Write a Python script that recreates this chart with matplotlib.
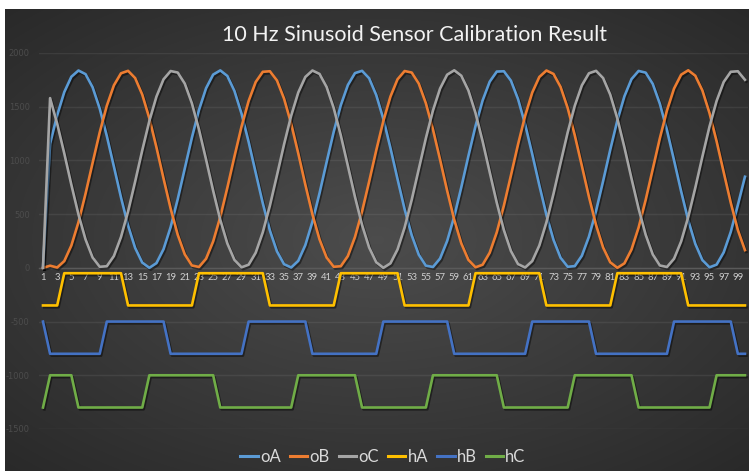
import numpy as np
import matplotlib
matplotlib.use("Agg")
import matplotlib.pyplot as plt
import matplotlib.patheffects as pe

# ---------------- data ----------------
samples = list(range(1, 101))

oA = [0, 1156, 1421, 1636, 1779, 1837, 1803, 1681, 1483, 1228,
      943, 656, 394, 185, 49, 0, 44, 174, 379, 639,
      926, 1212, 1470, 1672, 1799, 1838, 1786, 1647, 1436, 1173,
      885, 601, 348, 153, 34, 3, 65, 212, 429, 695,
      984, 1266, 1514, 1702, 1813, 1834, 1764, 1609, 1387, 1116,
      827, 546, 304, 122, 20, 8, 87, 250, 478, 752,
      1042, 1320, 1558, 1733, 1827, 1830, 1742, 1571, 1336, 1059,
      769, 493, 261, 94, 10, 16, 113, 291, 530, 809,
      1099, 1371, 1597, 1757, 1833, 1817, 1712, 1527, 1282, 1001,
      712, 443, 223, 72, 5, 30, 144, 335, 585, 848]

oB = [0, 20, 3, 63, 208, 424, 690, 978, 1261, 1509,
      1699, 1811, 1834, 1766, 1613, 1392, 1122, 832, 552, 308,
      125, 22, 8, 85, 246, 473, 746, 1036, 1315, 1553,
      1730, 1825, 1830, 1744, 1575, 1342, 1066, 774, 498, 265,
      96, 10, 15, 110, 287, 525, 804, 1094, 1367, 1594,
      1755, 1832, 1818, 1715, 1532, 1288, 1008, 718, 448, 227,
      74, 5, 29, 141, 331, 579, 862, 1150, 1416, 1632,
      1777, 1837, 1805, 1684, 1488, 1234, 949, 661, 399, 189,
      52, 0, 42, 171, 375, 633, 920, 1207, 1465, 1669,
      1798, 1839, 1788, 1651, 1441, 1179, 891, 606, 352, 165]

oC = [0, 1580, 1342, 1066, 774, 498, 265, 96, 10, 15,
      110, 287, 525, 804, 1094, 1367, 1594, 1755, 1832, 1818,
      1715, 1532, 1288, 1008, 718, 448, 227, 74, 5, 29,
      141, 331, 579, 862, 1150, 1416, 1632, 1777, 1837, 1805,
      1684, 1488, 1234, 949, 661, 399, 189, 52, 0, 42,
      171, 375, 633, 920, 1207, 1465, 1669, 1798, 1839, 1788,
      1651, 1441, 1179, 891, 606, 352, 156, 35, 3, 63,
      208, 424, 690, 978, 1261, 1509, 1699, 1811, 1834, 1766,
      1613, 1392, 1122, 832, 552, 308, 125, 22, 8, 85,
      246, 473, 746, 1036, 1315, 1553, 1730, 1825, 1830, 1750]

# hall sensor levels (high / low)
hA_high, hA_low = -50, -350
hB_high, hB_low = -500, -800
hC_high, hC_low = -1000, -1300

# samples at which each hall sensor is high
hA_high_samples = (list(range(4, 13)) + list(range(23, 33)) + list(range(43, 52))
                   + list(range(62, 72)) + list(range(82, 92)))
hB_high_samples = ([1] + list(range(10, 19)) + list(range(30, 39)) + list(range(49, 59))
                   + list(range(70, 79)) + list(range(90, 99)))
hC_high_samples = (list(range(2, 6)) + list(range(16, 26)) + list(range(37, 46))
                   + list(range(56, 66)) + list(range(76, 85)) + list(range(96, 101)))

hA = [hA_high if s in hA_high_samples else hA_low for s in samples]
hB = [hB_high if s in hB_high_samples else hB_low for s in samples]
hC = [hC_high if s in hC_high_samples else hC_low for s in samples]

series_names = ["oA", "oB", "oC", "hA", "hB", "hC"]
series_values = [oA, oB, oC, hA, hB, hC]
series_colors = ["#5b9bd5", "#ed7d31", "#a5a5a5", "#ffc000", "#4472c4", "#70ad47"]

y_ticks = [-1500, -1000, -500, 0, 500, 1000, 1500, 2000]
x_tick_labels = [str(s) for s in samples[::2]]

title = "10 Hz Sinusoid Sensor Calibration Result"

# ---------------- figure ----------------
W, H = 749, 471
fig = plt.figure(figsize=(W / 100, H / 100), dpi=100)
fig.patch.set_facecolor("white")

# dark radial gradient background (chart area), white margins top/left
bg = fig.add_axes([5 / W, 0, (W - 5) / W, (H - 9) / H])
bg.set_axis_off()
gx, gy = np.meshgrid(np.linspace(-1, 1, 400), np.linspace(-1, 1, 250))
r = np.sqrt((gx * 0.95) ** 2 + (gy * 1.0) ** 2)
shade = 0.30 - 0.14 * np.clip(r, 0, 1.4) / 1.4
img = np.dstack([shade, shade, shade])
bg.imshow(img, aspect="auto", extent=[0, 1, 0, 1], interpolation="bicubic")
bg.set_xlim(0, 1)
bg.set_ylim(0, 1)

left_px, right_px = 39.45, 748.5
top_px, bot_px = 53.0, 429.0
ax = fig.add_axes([left_px / W, (H - bot_px) / H, (right_px - left_px) / W, (bot_px - top_px) / H])
ax.set_facecolor("none")

shadow = [pe.SimpleLineShadow(offset=(1.0, -1.3), shadow_color="black", alpha=0.45), pe.Normal()]
for name, vals, col in zip(series_names, series_values, series_colors):
    ax.plot(samples, vals, color=col, lw=1.9, label=name, solid_joinstyle="round",
            path_effects=shadow, zorder=3)

ax.set_xlim(0.5, 100.5)
ax.set_ylim(-1500, 2000)
ax.set_yticks(y_ticks)
ax.set_yticklabels([str(v) for v in y_ticks])
ax.tick_params(axis="y", length=0, labelsize=6, labelcolor="#4c4c4c", pad=7)
ax.yaxis.grid(True, color="#ffffff", alpha=0.07, lw=1)
ax.set_axisbelow(True)

ax.set_xticks(samples[::2])
ax.set_xticklabels(x_tick_labels)
ax.tick_params(axis="x", length=0, labelsize=6.8, labelcolor="#cfcfcf", pad=4)
for s in ["top", "right", "left"]:
    ax.spines[s].set_visible(False)
ax.spines["bottom"].set_position(("data", 0))
ax.spines["bottom"].set_color("#5a5a5a")
ax.spines["bottom"].set_linewidth(1)
for lab in ax.get_xticklabels():
    lab.set_family("Lato")

fig.text(414 / W, 1 - 35 / H, title, ha="center", va="center", fontsize=15.5,
         color="#f2f2f2", family="Lato")

leg = fig.legend(loc="center", bbox_to_anchor=(383 / W, 14 / H), ncol=6, frameon=False,
                 handlelength=1.05, handletextpad=0.12, columnspacing=0.55,
                 prop={"family": "Lato", "size": 12})
for t in leg.get_texts():
    t.set_color("#d9d9d9")
for l in leg.get_lines():
    l.set_linewidth(2.2)
    l.set_path_effects([])

fig.savefig("out.png", dpi=100, facecolor=fig.get_facecolor())
